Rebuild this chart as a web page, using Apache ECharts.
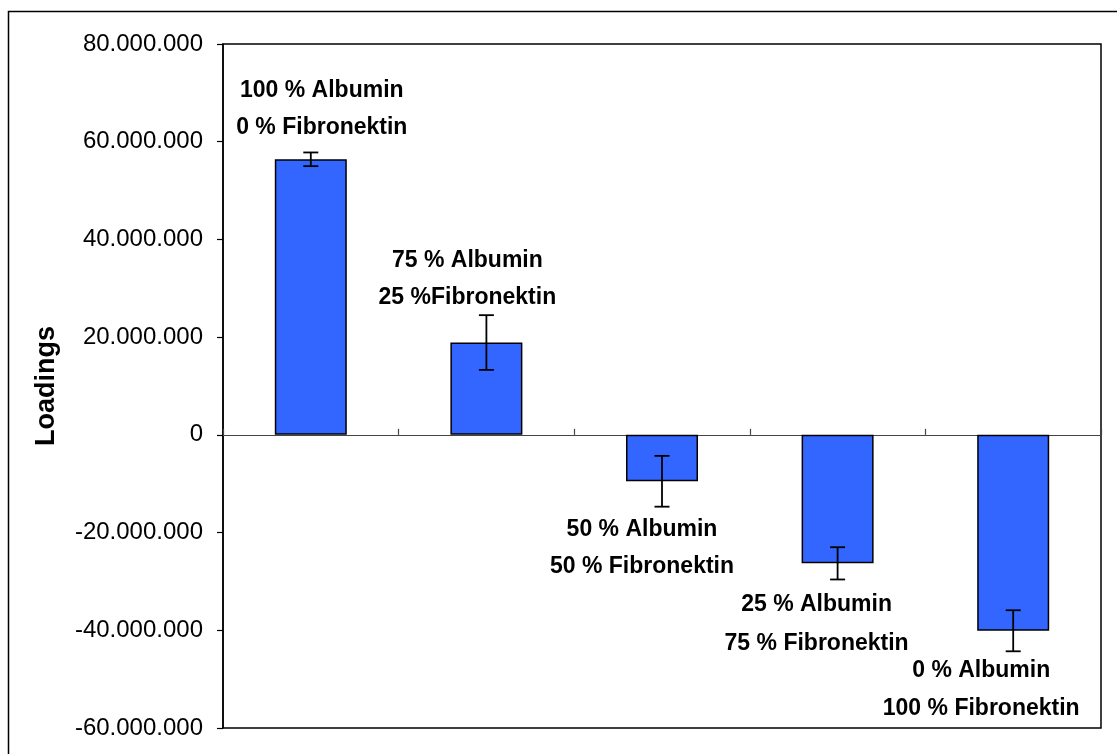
<!DOCTYPE html>
<html>
<head>
<meta charset="utf-8">
<script src="https://cdn.jsdelivr.net/npm/echarts@6/dist/echarts.min.js"></script>
<style>
  html, body { margin: 0; padding: 0; background: #ffffff; }
  #chart { width: 1117px; height: 754px; }
</style>
</head>
<body>
<div id="chart"></div>
<script>
// Mixture compositions (x categories)
const albuminLabels = ['100 % Albumin', '75 % Albumin', '50 % Albumin', '25 % Albumin', '0 % Albumin'];
const fibronektinLabels = ['0 % Fibronektin', '25 %Fibronektin', '50 % Fibronektin', '75 % Fibronektin', '100 % Fibronektin'];
const categories = ['A100', 'A75', 'A50', 'A25', 'A0'];

// Loadings and their standard deviations
const loadings = [56400000, 18900000, -9500000, -26300000, -40100000];
const loadingErrors = [1400000, 5600000, 5200000, 3300000, 4200000];

// Y axis range
const yMin = -60000000;
const yMax = 80000000;
const yStep = 20000000;

// Label placement relative to each bar end: [dx, dy line 1, dy line 2]
const labelOffsets = [
  [11, -69, -32],
  [-19, -82, -45],
  [-20, 48, 85],
  [-21, 41, 80],
  [-32, 40, 78]
];

const FONT = 'Arial, "Liberation Sans", Helvetica, sans-serif';

function dotted(v) {
  const neg = v < 0;
  const s = Math.abs(Math.round(v)).toString().replace(/\B(?=(\d{3})+(?!\d))/g, '.');
  return (neg ? '-' : '') + s;
}

const chart = echarts.init(document.getElementById('chart'), null, { renderer: 'canvas' });

const option = {
  backgroundColor: '#ffffff',
  animation: false,
  graphic: [
    {
      type: 'polyline',
      shape: { points: [[8.5, 754], [8.5, 11.5], [1117, 11.5]] },
      style: { stroke: '#000', lineWidth: 1.5, fill: null },
      silent: true
    }
  ],
  grid: {
    left: 223, right: 16, top: 44, bottom: 26,
    show: true, borderColor: '#000', borderWidth: 1.5, backgroundColor: 'transparent'
  },
  xAxis: {
    type: 'category',
    data: categories,
    axisLine: { onZero: true, lineStyle: { color: '#444', width: 1.2 } },
    axisTick: { show: true, inside: true, length: 6, alignWithLabel: false, lineStyle: { color: '#444', width: 1.2 } },
    axisLabel: { show: false },
    splitLine: { show: false }
  },
  yAxis: {
    type: 'value',
    min: yMin, max: yMax, interval: yStep,
    name: 'Loadings',
    nameLocation: 'middle',
    nameGap: 163,
    nameRotate: 90,
    nameTextStyle: { fontFamily: FONT, fontSize: 27, fontWeight: 'bold', color: '#000' },
    axisLine: { show: true, lineStyle: { color: '#000', width: 1.5 } },
    axisTick: { show: true, inside: false, length: 6, lineStyle: { color: '#000', width: 1.2 } },
    axisLabel: {
      fontFamily: FONT, fontSize: 24, color: '#000', margin: 20,
      formatter: dotted
    },
    splitLine: { show: false }
  },
  series: [
    {
      type: 'bar',
      data: loadings,
      barWidth: 72,
      itemStyle: { color: '#3366FF', borderColor: '#000', borderWidth: 1.5 },
      z: 2
    },
    {
      type: 'custom',
      z: 3,
      data: loadings.map((v, i) => [i, v, loadingErrors[i]]),
      renderItem: function (params, api) {
        const i = api.value(0), v = api.value(1), e = api.value(2);
        const top = api.coord([i, v + e]);
        const bot = api.coord([i, v - e]);
        const hw = 7.5;
        const st = { stroke: '#000', lineWidth: 1.8 };
        return {
          type: 'group',
          children: [
            { type: 'line', shape: { x1: top[0], y1: top[1], x2: bot[0], y2: bot[1] }, style: st },
            { type: 'line', shape: { x1: top[0] - hw, y1: top[1], x2: top[0] + hw, y2: top[1] }, style: st },
            { type: 'line', shape: { x1: bot[0] - hw, y1: bot[1], x2: bot[0] + hw, y2: bot[1] }, style: st }
          ]
        };
      }
    },
    {
      type: 'custom',
      z: 4,
      data: loadings.map((v, i) => [i, v]),
      renderItem: function (params, api) {
        const i = api.value(0), v = api.value(1);
        const p = api.coord([i, v]);
        const o = labelOffsets[i];
        const ts = {
          fill: '#000', font: 'bold 23px ' + FONT,
          textAlign: 'center', textVerticalAlign: 'middle'
        };
        return {
          type: 'group',
          children: [
            { type: 'text', x: p[0] + o[0], y: p[1] + o[1], style: Object.assign({ text: albuminLabels[i] }, ts) },
            { type: 'text', x: p[0] + o[0], y: p[1] + o[2], style: Object.assign({ text: fibronektinLabels[i] }, ts) }
          ]
        };
      }
    }
  ]
};

chart.setOption(option);
</script>
</body>
</html>
